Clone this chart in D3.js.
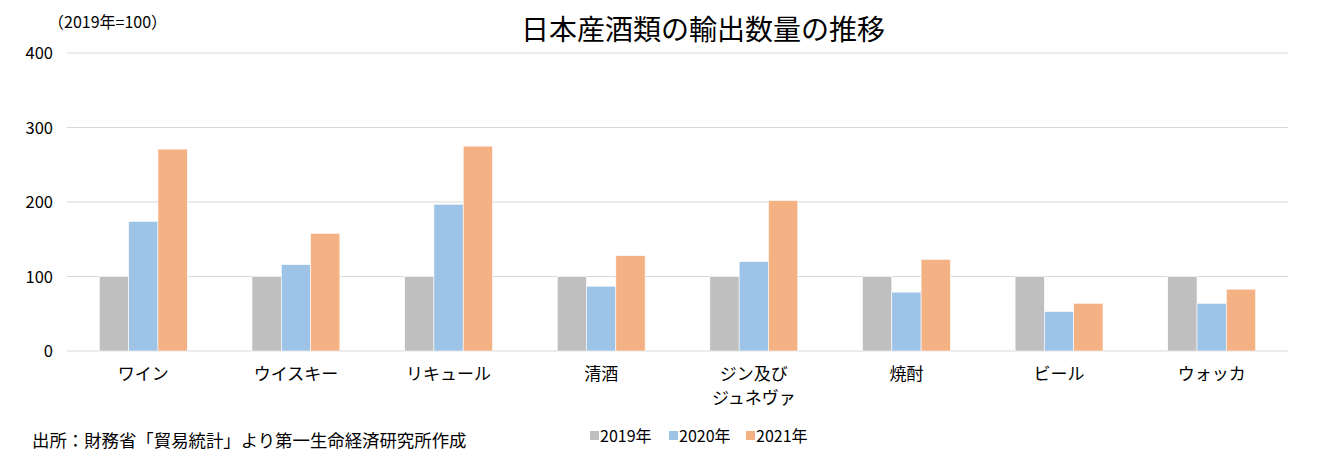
<!DOCTYPE html>
<html>
<head>
<meta charset="utf-8">
<script src="https://cdn.jsdelivr.net/npm/d3@7"></script>
<style>
  html, body { margin: 0; padding: 0; background: #fff; }
  svg { display: block; font-family: "Noto Sans CJK JP", "Noto Sans", sans-serif; }
</style>
</head>
<body>
<svg id="chart" width="1339" height="457"></svg>
<script>
const categories = ["ワイン", "ウイスキー", "リキュール", "清酒", "ジン及び\nジュネヴァ", "焼酎", "ビール", "ウォッカ"];
const seriesNames = ["2019年", "2020年", "2021年"];
const values2019 = [100, 100, 100, 100, 100, 100, 100, 100];
const values2020 = [174, 116, 197, 87, 120, 79, 53, 64];
const values2021 = [271, 158, 275, 128, 202, 123, 64, 83];
const yTicks = [0, 100, 200, 300, 400];
const colors = ["#BFBFBF", "#9DC3E6", "#F4B183"];
const titleText = "日本産酒類の輸出数量の推移";
const unitText = "（2019年=100）";
const sourceText = "出所：財務省「貿易統計」より第一生命経済研究所作成";

const seriesValues = [values2019, values2020, values2021];
const svg = d3.select("#chart");
const mLeft = 67, mRight = 1288, mTop = 53, mBottom = 351;

const x = d3.scaleBand().domain(categories).range([mLeft, mRight]).paddingInner(0).paddingOuter(0);
const groupFrac = 0.576;
const xs = d3.scaleBand().domain(seriesNames).range([0, x.bandwidth() * groupFrac]).padding(0);
const y = d3.scaleLinear().domain([0, 400]).range([mBottom, mTop]);

// gridlines
svg.append("g").selectAll("line").data(yTicks).join("line")
  .attr("x1", mLeft).attr("x2", mRight)
  .attr("y1", d => y(d)).attr("y2", d => y(d))
  .attr("stroke", "#D9D9D9").attr("stroke-width", 1.2);

// y axis labels
const yAxis = d3.axisLeft(y).tickValues(yTicks).tickSize(0).tickPadding(0);
const yg = svg.append("g").attr("transform", `translate(${mLeft - 14},0)`).call(yAxis);
yg.select(".domain").remove();
yg.selectAll("text").attr("font-size", 16.5).attr("fill", "#000")
  .attr("font-family", "'Noto Sans CJK JP', sans-serif").attr("dy", "0.35em");

// bars
const groups = svg.append("g").selectAll("g").data(categories).join("g")
  .attr("transform", d => `translate(${x(d) + x.bandwidth() * (1 - groupFrac) / 2},0)`);
groups.selectAll("rect")
  .data((c, i) => seriesNames.map((s, j) => ({ s, v: seriesValues[j][i], j })))
  .join("rect")
  .attr("x", d => xs(d.s))
  .attr("width", xs.bandwidth())
  .attr("y", d => y(d.v))
  .attr("height", d => y(0) - y(d.v))
  .attr("fill", d => colors[d.j])
  .attr("stroke", "#fff").attr("stroke-width", 0.6);

// x labels
const xl = svg.append("g").selectAll("text").data(categories).join("text")
  .attr("x", d => x(d) + x.bandwidth() / 2)
  .attr("y", 380)
  .attr("text-anchor", "middle")
  .attr("font-size", 17)
  .attr("fill", "#000");
xl.each(function(d) {
  const t = d3.select(this);
  d.split("\n").forEach((line, i) => {
    t.append("tspan").attr("x", x(d) + x.bandwidth() / 2).attr("dy", i === 0 ? 0 : 24).text(line);
  });
});

// title
svg.append("text").attr("x", 703).attr("y", 40).attr("text-anchor", "middle")
  .attr("font-size", 28).attr("fill", "#000").text(titleText);

// unit
svg.append("text").attr("x", 48).attr("y", 28).attr("font-size", 16).attr("fill", "#000").text(unitText);

// source
svg.append("text").attr("x", 32).attr("y", 447).attr("font-size", 17.4).attr("fill", "#000").text(sourceText);

// legend
const legendX = [590, 669, 746];
const lg = svg.append("g").selectAll("g").data(seriesNames).join("g")
  .attr("transform", (d, i) => `translate(${legendX[i]},0)`);
lg.append("rect").attr("x", 0).attr("y", 431).attr("width", 9).attr("height", 9)
  .attr("fill", (d, i) => colors[i]);
lg.append("text").attr("x", 10).attr("y", 442).attr("font-size", 16).attr("fill", "#000").text(d => d);
</script>
</body>
</html>
